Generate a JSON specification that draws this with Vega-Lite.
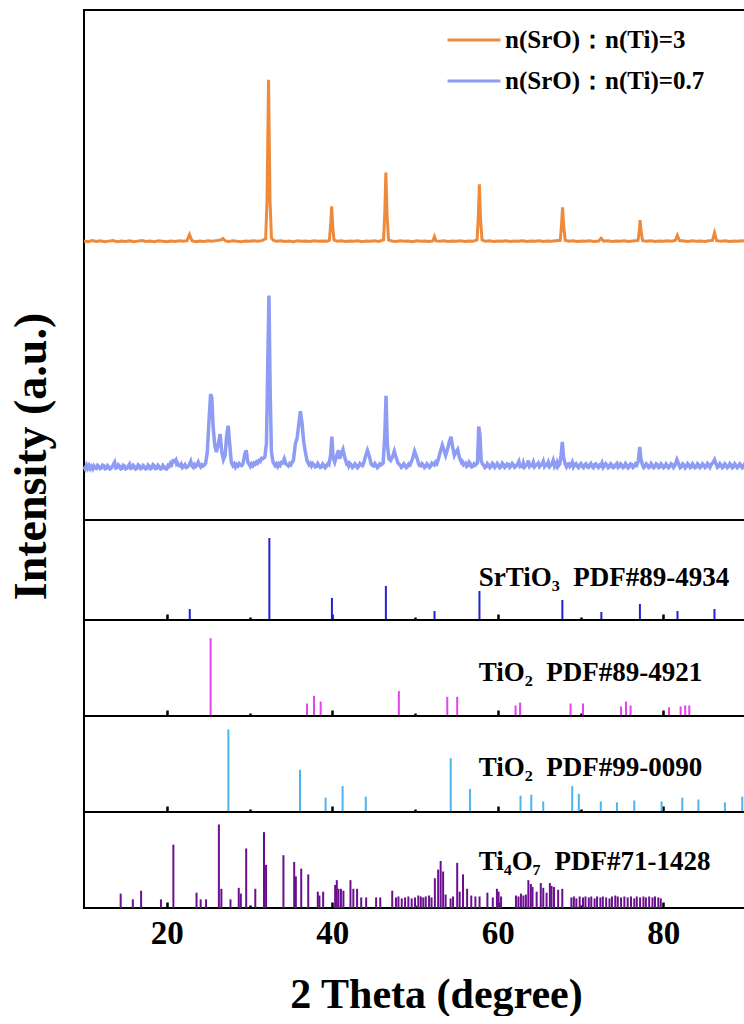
{
"$schema": "https://vega.github.io/schema/vega-lite/v6.json",
"padding": {"left": 8, "top": 9, "right": 0, "bottom": 0},
"bounds": "flush",
"config": {"view": {"stroke": "black", "strokeWidth": 2}, "concat": {"spacing": 0}, "font": "Liberation Serif"},
"title": {"text": "Intensity (a.u.)", "orient": "left", "anchor": "middle", "fontSize": 46, "fontWeight": "bold", "font": "Liberation Serif", "offset": 20, "color": "black", "dx": 56},
"datasets": {
"lines": [
{"s":"3","t":10,"i":31.2},{"s":"3","t":10.5,"i":30.8},{"s":"3","t":11,"i":31.5},{"s":"3","t":11.5,"i":30.9},{"s":"3","t":12,"i":31.3},{"s":"3","t":12.5,"i":30.7},{"s":"3","t":13,"i":31.1},{"s":"3","t":13.5,"i":31.4},{"s":"3","t":14,"i":30.8},{"s":"3","t":14.5,"i":31.2},{"s":"3","t":15,"i":30.9},{"s":"3","t":15.5,"i":31.3},{"s":"3","t":16,"i":30.7},{"s":"3","t":16.5,"i":31.1},{"s":"3","t":17,"i":31.4},{"s":"3","t":17.5,"i":30.9},{"s":"3","t":18,"i":31.2},{"s":"3","t":18.5,"i":30.8},{"s":"3","t":19,"i":31.3},{"s":"3","t":19.5,"i":31.0},{"s":"3","t":20,"i":30.7},{"s":"3","t":20.5,"i":31.2},{"s":"3","t":21,"i":30.9},{"s":"3","t":21.5,"i":31.3},{"s":"3","t":22,"i":31.0},{"s":"3","t":22.45,"i":31.4},{"s":"3","t":22.75,"i":35},{"s":"3","t":23.05,"i":31.3},{"s":"3","t":23.5,"i":30.8},{"s":"3","t":24,"i":31.2},{"s":"3","t":24.5,"i":30.9},{"s":"3","t":25,"i":31.3},{"s":"3","t":25.5,"i":31.0},{"s":"3","t":26,"i":31.4},{"s":"3","t":26.5,"i":31.8},{"s":"3","t":26.8,"i":32.6},{"s":"3","t":27.1,"i":31.2},{"s":"3","t":27.5,"i":30.9},{"s":"3","t":28,"i":31.3},{"s":"3","t":28.5,"i":31.0},{"s":"3","t":29,"i":30.8},{"s":"3","t":29.5,"i":31.2},{"s":"3","t":30,"i":31.0},{"s":"3","t":30.5,"i":31.3},{"s":"3","t":31,"i":31.1},{"s":"3","t":31.5,"i":31.4},{"s":"3","t":31.95,"i":32.5},{"s":"3","t":32.12,"i":55},{"s":"3","t":32.3,"i":126},{"s":"3","t":32.48,"i":55},{"s":"3","t":32.65,"i":33},{"s":"3","t":32.9,"i":31.5},{"s":"3","t":33.3,"i":31.0},{"s":"3","t":33.8,"i":31.3},{"s":"3","t":34.3,"i":30.9},{"s":"3","t":34.8,"i":31.2},{"s":"3","t":35.3,"i":30.8},{"s":"3","t":35.8,"i":31.3},{"s":"3","t":36.3,"i":31.0},{"s":"3","t":36.8,"i":31.2},{"s":"3","t":37.3,"i":30.9},{"s":"3","t":37.8,"i":31.3},{"s":"3","t":38.3,"i":31.0},{"s":"3","t":38.8,"i":31.2},{"s":"3","t":39.3,"i":31.0},{"s":"3","t":39.65,"i":31.5},{"s":"3","t":39.8,"i":40},{"s":"3","t":39.93,"i":51.5},{"s":"3","t":40.06,"i":40},{"s":"3","t":40.2,"i":31.8},{"s":"3","t":40.6,"i":31.0},{"s":"3","t":41.1,"i":31.3},{"s":"3","t":41.6,"i":30.9},{"s":"3","t":42.1,"i":31.2},{"s":"3","t":42.6,"i":31.0},{"s":"3","t":43.1,"i":31.3},{"s":"3","t":43.6,"i":30.8},{"s":"3","t":44.1,"i":31.2},{"s":"3","t":44.6,"i":31.0},{"s":"3","t":45.1,"i":31.3},{"s":"3","t":45.6,"i":30.9},{"s":"3","t":46.2,"i":31.8},{"s":"3","t":46.35,"i":48},{"s":"3","t":46.48,"i":71.5},{"s":"3","t":46.62,"i":47},{"s":"3","t":46.8,"i":31.8},{"s":"3","t":47.2,"i":31.2},{"s":"3","t":47.7,"i":30.9},{"s":"3","t":48.2,"i":31.3},{"s":"3","t":48.7,"i":31.0},{"s":"3","t":49.2,"i":31.2},{"s":"3","t":49.7,"i":30.8},{"s":"3","t":50.2,"i":31.3},{"s":"3","t":50.7,"i":31.0},{"s":"3","t":51.2,"i":31.2},{"s":"3","t":51.7,"i":30.9},{"s":"3","t":52.15,"i":31.2},{"s":"3","t":52.35,"i":33.8},{"s":"3","t":52.55,"i":31.2},{"s":"3","t":53,"i":31.0},{"s":"3","t":53.5,"i":31.3},{"s":"3","t":54,"i":30.9},{"s":"3","t":54.5,"i":31.2},{"s":"3","t":55,"i":31.0},{"s":"3","t":55.5,"i":31.3},{"s":"3","t":56,"i":30.9},{"s":"3","t":56.5,"i":31.2},{"s":"3","t":57,"i":31.0},{"s":"3","t":57.5,"i":31.8},{"s":"3","t":57.65,"i":45},{"s":"3","t":57.78,"i":64.5},{"s":"3","t":57.92,"i":44},{"s":"3","t":58.1,"i":31.8},{"s":"3","t":58.5,"i":31.0},{"s":"3","t":59,"i":31.3},{"s":"3","t":59.5,"i":30.9},{"s":"3","t":60,"i":31.2},{"s":"3","t":60.5,"i":31.0},{"s":"3","t":61,"i":31.3},{"s":"3","t":61.5,"i":30.9},{"s":"3","t":62,"i":31.2},{"s":"3","t":62.5,"i":31.0},{"s":"3","t":63,"i":31.3},{"s":"3","t":63.5,"i":30.9},{"s":"3","t":64,"i":31.2},{"s":"3","t":64.5,"i":31.0},{"s":"3","t":65,"i":31.3},{"s":"3","t":65.5,"i":30.9},{"s":"3","t":66,"i":31.2},{"s":"3","t":66.5,"i":31.0},{"s":"3","t":67,"i":31.3},{"s":"3","t":67.55,"i":31.6},{"s":"3","t":67.7,"i":40},{"s":"3","t":67.83,"i":51},{"s":"3","t":67.97,"i":40},{"s":"3","t":68.15,"i":31.6},{"s":"3","t":68.6,"i":31.0},{"s":"3","t":69.1,"i":31.3},{"s":"3","t":69.6,"i":30.9},{"s":"3","t":70.1,"i":31.2},{"s":"3","t":70.6,"i":31.0},{"s":"3","t":71.1,"i":31.3},{"s":"3","t":71.6,"i":30.9},{"s":"3","t":72.2,"i":31.2},{"s":"3","t":72.5,"i":32.8},{"s":"3","t":72.8,"i":31.1},{"s":"3","t":73.3,"i":31.3},{"s":"3","t":73.8,"i":30.9},{"s":"3","t":74.3,"i":31.2},{"s":"3","t":74.8,"i":31.0},{"s":"3","t":75.3,"i":31.3},{"s":"3","t":75.8,"i":30.9},{"s":"3","t":76.3,"i":31.2},{"s":"3","t":76.95,"i":31.5},{"s":"3","t":77.1,"i":37},{"s":"3","t":77.2,"i":43.5},{"s":"3","t":77.32,"i":37},{"s":"3","t":77.5,"i":31.4},{"s":"3","t":78,"i":31.0},{"s":"3","t":78.5,"i":31.3},{"s":"3","t":79,"i":30.9},{"s":"3","t":79.5,"i":31.2},{"s":"3","t":80,"i":31.0},{"s":"3","t":80.5,"i":31.3},{"s":"3","t":81,"i":31.0},{"s":"3","t":81.45,"i":31.5},{"s":"3","t":81.7,"i":34.5},{"s":"3","t":81.95,"i":31.4},{"s":"3","t":82.5,"i":31.2},{"s":"3","t":83,"i":30.9},{"s":"3","t":83.5,"i":31.3},{"s":"3","t":84,"i":31.0},{"s":"3","t":84.5,"i":31.2},{"s":"3","t":85,"i":30.9},{"s":"3","t":85.5,"i":31.3},{"s":"3","t":85.95,"i":31.5},{"s":"3","t":86.2,"i":36},{"s":"3","t":86.45,"i":31.4},{"s":"3","t":87,"i":31.0},{"s":"3","t":87.5,"i":31.3},{"s":"3","t":88,"i":30.9},{"s":"3","t":88.5,"i":31.2},{"s":"3","t":89,"i":31.0},{"s":"3","t":89.5,"i":31.3},{"s":"3","t":90,"i":31.0},
{"s":"0.7","t":10,"i":31.5},{"s":"0.7","t":10.15,"i":30.1},{"s":"0.7","t":10.3,"i":32.2},{"s":"0.7","t":10.45,"i":30.4},{"s":"0.7","t":10.6,"i":32},{"s":"0.7","t":10.75,"i":30.2},{"s":"0.7","t":10.9,"i":31.5},{"s":"0.7","t":11.05,"i":30.1},{"s":"0.7","t":11.2,"i":31.8},{"s":"0.7","t":11.35,"i":30.6},{"s":"0.7","t":11.5,"i":30.3},{"s":"0.7","t":11.65,"i":32.1},{"s":"0.7","t":11.8,"i":31.5},{"s":"0.7","t":11.95,"i":30.2},{"s":"0.7","t":12.1,"i":30.6},{"s":"0.7","t":12.25,"i":32.3},{"s":"0.7","t":12.4,"i":31.9},{"s":"0.7","t":12.55,"i":30.1},{"s":"0.7","t":12.7,"i":30.4},{"s":"0.7","t":12.85,"i":32.0},{"s":"0.7","t":13.0,"i":31.2},{"s":"0.7","t":13.15,"i":30.0},{"s":"0.7","t":13.3,"i":30.5},{"s":"0.7","t":13.5,"i":32.2},{"s":"0.7","t":13.7,"i":34},{"s":"0.7","t":13.85,"i":30.5},{"s":"0.7","t":14.0,"i":30.8},{"s":"0.7","t":14.15,"i":32.4},{"s":"0.7","t":14.3,"i":31.6},{"s":"0.7","t":14.45,"i":30.0},{"s":"0.7","t":14.6,"i":30.3},{"s":"0.7","t":14.75,"i":32.2},{"s":"0.7","t":14.9,"i":31.8},{"s":"0.7","t":15.05,"i":30.1},{"s":"0.7","t":15.2,"i":30.5},{"s":"0.7","t":15.35,"i":31.6},{"s":"0.7","t":15.5,"i":32.8},{"s":"0.7","t":15.65,"i":30.4},{"s":"0.7","t":15.8,"i":30.6},{"s":"0.7","t":15.95,"i":32.2},{"s":"0.7","t":16.1,"i":31.5},{"s":"0.7","t":16.25,"i":30.0},{"s":"0.7","t":16.4,"i":30.4},{"s":"0.7","t":16.55,"i":32.4},{"s":"0.7","t":16.7,"i":31.8},{"s":"0.7","t":16.85,"i":30.2},{"s":"0.7","t":17.0,"i":30.5},{"s":"0.7","t":17.15,"i":32.0},{"s":"0.7","t":17.3,"i":31.4},{"s":"0.7","t":17.45,"i":30.0},{"s":"0.7","t":17.6,"i":30.2},{"s":"0.7","t":17.75,"i":32.3},{"s":"0.7","t":17.9,"i":31.6},{"s":"0.7","t":18.05,"i":30.1},{"s":"0.7","t":18.2,"i":30.5},{"s":"0.7","t":18.35,"i":32.5},{"s":"0.7","t":18.5,"i":31.9},{"s":"0.7","t":18.65,"i":30.2},{"s":"0.7","t":18.8,"i":30.4},{"s":"0.7","t":18.95,"i":32.1},{"s":"0.7","t":19.1,"i":31.2},{"s":"0.7","t":19.25,"i":30.0},{"s":"0.7","t":19.4,"i":30.3},{"s":"0.7","t":19.55,"i":32.0},{"s":"0.7","t":19.7,"i":31.0},{"s":"0.7","t":19.85,"i":30.2},{"s":"0.7","t":20.0,"i":30.0},{"s":"0.7","t":20.15,"i":32.1},{"s":"0.7","t":20.3,"i":31.6},{"s":"0.7","t":20.45,"i":33.4},{"s":"0.7","t":20.6,"i":32.5},{"s":"0.7","t":20.75,"i":34.8},{"s":"0.7","t":20.9,"i":34.5},{"s":"0.7","t":21.1,"i":35.5},{"s":"0.7","t":21.2,"i":33.0},{"s":"0.7","t":21.3,"i":33.5},{"s":"0.7","t":21.45,"i":32.0},{"s":"0.7","t":21.6,"i":31.8},{"s":"0.7","t":21.75,"i":32.9},{"s":"0.7","t":21.9,"i":30.8},{"s":"0.7","t":22.05,"i":31.5},{"s":"0.7","t":22.2,"i":32.5},{"s":"0.7","t":22.35,"i":30.9},{"s":"0.7","t":22.5,"i":31.2},{"s":"0.7","t":22.7,"i":32.3},{"s":"0.7","t":22.9,"i":34.5},{"s":"0.7","t":23.05,"i":31.8},{"s":"0.7","t":23.2,"i":31.0},{"s":"0.7","t":23.35,"i":32.6},{"s":"0.7","t":23.5,"i":31.5},{"s":"0.7","t":23.65,"i":32.2},{"s":"0.7","t":23.8,"i":34.0},{"s":"0.7","t":23.95,"i":32.2},{"s":"0.7","t":24.1,"i":31.2},{"s":"0.7","t":24.25,"i":32.5},{"s":"0.7","t":24.4,"i":31.8},{"s":"0.7","t":24.55,"i":32.5},{"s":"0.7","t":24.7,"i":33.5},{"s":"0.7","t":24.9,"i":40},{"s":"0.7","t":25.1,"i":58},{"s":"0.7","t":25.3,"i":74},{"s":"0.7","t":25.45,"i":72},{"s":"0.7","t":25.6,"i":55},{"s":"0.7","t":25.8,"i":44},{"s":"0.7","t":26.0,"i":40},{"s":"0.7","t":26.2,"i":44},{"s":"0.7","t":26.45,"i":50.5},{"s":"0.7","t":26.65,"i":40},{"s":"0.7","t":26.85,"i":35.5},{"s":"0.7","t":27.05,"i":38},{"s":"0.7","t":27.25,"i":50},{"s":"0.7","t":27.42,"i":55.5},{"s":"0.7","t":27.6,"i":45},{"s":"0.7","t":27.8,"i":34},{"s":"0.7","t":28.0,"i":32},{"s":"0.7","t":28.15,"i":33.0},{"s":"0.7","t":28.3,"i":31.2},{"s":"0.7","t":28.45,"i":32.6},{"s":"0.7","t":28.6,"i":31.8},{"s":"0.7","t":28.75,"i":33.2},{"s":"0.7","t":28.9,"i":32.3},{"s":"0.7","t":29.05,"i":32.0},{"s":"0.7","t":29.2,"i":33},{"s":"0.7","t":29.45,"i":39},{"s":"0.7","t":29.6,"i":41},{"s":"0.7","t":29.8,"i":34},{"s":"0.7","t":29.95,"i":32.8},{"s":"0.7","t":30.1,"i":31.5},{"s":"0.7","t":30.25,"i":33.0},{"s":"0.7","t":30.4,"i":32},{"s":"0.7","t":30.55,"i":33.5},{"s":"0.7","t":30.7,"i":32.8},{"s":"0.7","t":30.85,"i":34.2},{"s":"0.7","t":31.0,"i":33.5},{"s":"0.7","t":31.15,"i":35.0},{"s":"0.7","t":31.3,"i":34.5},{"s":"0.7","t":31.45,"i":36.2},{"s":"0.7","t":31.6,"i":36},{"s":"0.7","t":31.85,"i":37},{"s":"0.7","t":32.05,"i":45},{"s":"0.7","t":32.2,"i":90},{"s":"0.7","t":32.35,"i":132},{"s":"0.7","t":32.5,"i":75},{"s":"0.7","t":32.65,"i":40},{"s":"0.7","t":32.85,"i":34},{"s":"0.7","t":33.0,"i":32.8},{"s":"0.7","t":33.1,"i":32},{"s":"0.7","t":33.25,"i":33.0},{"s":"0.7","t":33.4,"i":31.5},{"s":"0.7","t":33.55,"i":33.0},{"s":"0.7","t":33.7,"i":32.2},{"s":"0.7","t":33.85,"i":33.8},{"s":"0.7","t":34.0,"i":33.5},{"s":"0.7","t":34.2,"i":36},{"s":"0.7","t":34.4,"i":33},{"s":"0.7","t":34.55,"i":32.5},{"s":"0.7","t":34.7,"i":31.8},{"s":"0.7","t":34.85,"i":33.2},{"s":"0.7","t":35.0,"i":32.5},{"s":"0.7","t":35.15,"i":34.0},{"s":"0.7","t":35.3,"i":35},{"s":"0.7","t":35.55,"i":45},{"s":"0.7","t":35.75,"i":48},{"s":"0.7","t":35.95,"i":56},{"s":"0.7","t":36.15,"i":64},{"s":"0.7","t":36.35,"i":57},{"s":"0.7","t":36.55,"i":46},{"s":"0.7","t":36.75,"i":40},{"s":"0.7","t":36.95,"i":35},{"s":"0.7","t":37.05,"i":34.0},{"s":"0.7","t":37.2,"i":32.5},{"s":"0.7","t":37.35,"i":33.4},{"s":"0.7","t":37.5,"i":31.8},{"s":"0.7","t":37.65,"i":33.2},{"s":"0.7","t":37.8,"i":32.5},{"s":"0.7","t":37.95,"i":31.2},{"s":"0.7","t":38.1,"i":31.5},{"s":"0.7","t":38.25,"i":33.2},{"s":"0.7","t":38.4,"i":32},{"s":"0.7","t":38.55,"i":30.9},{"s":"0.7","t":38.7,"i":31.2},{"s":"0.7","t":38.85,"i":33.0},{"s":"0.7","t":39.0,"i":32.2},{"s":"0.7","t":39.15,"i":30.8},{"s":"0.7","t":39.3,"i":31.6},{"s":"0.7","t":39.45,"i":33.0},{"s":"0.7","t":39.6,"i":32.5},{"s":"0.7","t":39.8,"i":38},{"s":"0.7","t":39.95,"i":49},{"s":"0.7","t":40.1,"i":37},{"s":"0.7","t":40.3,"i":34},{"s":"0.7","t":40.55,"i":38},{"s":"0.7","t":40.75,"i":41},{"s":"0.7","t":40.9,"i":36},{"s":"0.7","t":41.1,"i":39},{"s":"0.7","t":41.3,"i":41.5},{"s":"0.7","t":41.5,"i":37},{"s":"0.7","t":41.75,"i":33},{"s":"0.7","t":41.9,"i":33.5},{"s":"0.7","t":42.0,"i":31.8},{"s":"0.7","t":42.15,"i":33.2},{"s":"0.7","t":42.3,"i":32.3},{"s":"0.7","t":42.45,"i":30.9},{"s":"0.7","t":42.6,"i":31.5},{"s":"0.7","t":42.75,"i":33.0},{"s":"0.7","t":42.9,"i":32.2},{"s":"0.7","t":43.05,"i":30.8},{"s":"0.7","t":43.2,"i":31.6},{"s":"0.7","t":43.35,"i":33.2},{"s":"0.7","t":43.5,"i":32.5},{"s":"0.7","t":43.65,"i":32.0},{"s":"0.7","t":43.8,"i":33.5},{"s":"0.7","t":44.05,"i":38},{"s":"0.7","t":44.25,"i":41},{"s":"0.7","t":44.45,"i":38},{"s":"0.7","t":44.7,"i":33},{"s":"0.7","t":44.85,"i":32.2},{"s":"0.7","t":45.0,"i":31.8},{"s":"0.7","t":45.15,"i":33.2},{"s":"0.7","t":45.3,"i":32.2},{"s":"0.7","t":45.45,"i":30.8},{"s":"0.7","t":45.6,"i":31.5},{"s":"0.7","t":45.75,"i":33.0},{"s":"0.7","t":45.9,"i":32.5},{"s":"0.7","t":46.15,"i":33.5},{"s":"0.7","t":46.35,"i":50},{"s":"0.7","t":46.5,"i":73},{"s":"0.7","t":46.65,"i":45},{"s":"0.7","t":46.85,"i":36},{"s":"0.7","t":47.05,"i":35},{"s":"0.7","t":47.3,"i":37.5},{"s":"0.7","t":47.5,"i":40.5},{"s":"0.7","t":47.7,"i":37},{"s":"0.7","t":47.95,"i":33.5},{"s":"0.7","t":48.05,"i":33.0},{"s":"0.7","t":48.2,"i":32.3},{"s":"0.7","t":48.35,"i":31.0},{"s":"0.7","t":48.5,"i":31.6},{"s":"0.7","t":48.65,"i":33.0},{"s":"0.7","t":48.8,"i":32.2},{"s":"0.7","t":48.95,"i":30.8},{"s":"0.7","t":49.1,"i":31.4},{"s":"0.7","t":49.25,"i":33.0},{"s":"0.7","t":49.4,"i":32.5},{"s":"0.7","t":49.7,"i":36},{"s":"0.7","t":49.95,"i":40.5},{"s":"0.7","t":50.2,"i":37},{"s":"0.7","t":50.45,"i":33},{"s":"0.7","t":50.55,"i":32.0},{"s":"0.7","t":50.7,"i":31.8},{"s":"0.7","t":50.85,"i":33.2},{"s":"0.7","t":51.0,"i":32.3},{"s":"0.7","t":51.15,"i":30.8},{"s":"0.7","t":51.3,"i":31.5},{"s":"0.7","t":51.45,"i":33.0},{"s":"0.7","t":51.6,"i":32.2},{"s":"0.7","t":51.75,"i":30.9},{"s":"0.7","t":51.9,"i":31.6},{"s":"0.7","t":52.05,"i":33.5},{"s":"0.7","t":52.2,"i":33},{"s":"0.7","t":52.35,"i":32.4},{"s":"0.7","t":52.5,"i":34},{"s":"0.7","t":52.65,"i":33.2},{"s":"0.7","t":52.8,"i":35.5},{"s":"0.7","t":53.05,"i":40},{"s":"0.7","t":53.3,"i":44},{"s":"0.7","t":53.5,"i":41},{"s":"0.7","t":53.7,"i":38},{"s":"0.7","t":53.95,"i":42},{"s":"0.7","t":54.15,"i":46},{"s":"0.7","t":54.35,"i":49},{"s":"0.7","t":54.55,"i":43},{"s":"0.7","t":54.75,"i":38},{"s":"0.7","t":54.95,"i":40},{"s":"0.7","t":55.15,"i":41.5},{"s":"0.7","t":55.35,"i":37},{"s":"0.7","t":55.6,"i":34},{"s":"0.7","t":55.7,"i":34.5},{"s":"0.7","t":55.85,"i":32.5},{"s":"0.7","t":56.1,"i":33.5},{"s":"0.7","t":56.25,"i":31.5},{"s":"0.7","t":56.4,"i":32},{"s":"0.7","t":56.55,"i":34.0},{"s":"0.7","t":56.7,"i":33},{"s":"0.7","t":56.85,"i":31.2},{"s":"0.7","t":57.0,"i":31.5},{"s":"0.7","t":57.15,"i":33.0},{"s":"0.7","t":57.3,"i":32.3},{"s":"0.7","t":57.55,"i":33.5},{"s":"0.7","t":57.7,"i":55},{"s":"0.7","t":57.85,"i":50},{"s":"0.7","t":58.0,"i":35},{"s":"0.7","t":58.15,"i":33.0},{"s":"0.7","t":58.3,"i":32.2},{"s":"0.7","t":58.45,"i":30.8},{"s":"0.7","t":58.6,"i":31.4},{"s":"0.7","t":58.75,"i":33.2},{"s":"0.7","t":58.9,"i":32.3},{"s":"0.7","t":59.05,"i":30.8},{"s":"0.7","t":59.2,"i":31.5},{"s":"0.7","t":59.35,"i":33.3},{"s":"0.7","t":59.5,"i":32.6},{"s":"0.7","t":59.65,"i":30.9},{"s":"0.7","t":59.8,"i":31.6},{"s":"0.7","t":59.95,"i":33.2},{"s":"0.7","t":60.1,"i":32.3},{"s":"0.7","t":60.25,"i":30.8},{"s":"0.7","t":60.4,"i":31.4},{"s":"0.7","t":60.55,"i":33.4},{"s":"0.7","t":60.7,"i":32.5},{"s":"0.7","t":60.85,"i":30.9},{"s":"0.7","t":61.0,"i":31.5},{"s":"0.7","t":61.15,"i":33.0},{"s":"0.7","t":61.3,"i":32.8},{"s":"0.7","t":61.45,"i":30.9},{"s":"0.7","t":61.6,"i":31.6},{"s":"0.7","t":61.75,"i":33.2},{"s":"0.7","t":61.9,"i":32.3},{"s":"0.7","t":62.05,"i":31.0},{"s":"0.7","t":62.2,"i":31.6},{"s":"0.7","t":62.4,"i":33.0},{"s":"0.7","t":62.55,"i":34.5},{"s":"0.7","t":62.7,"i":31.5},{"s":"0.7","t":62.85,"i":32.0},{"s":"0.7","t":63.0,"i":31.4},{"s":"0.7","t":63.1,"i":33.5},{"s":"0.7","t":63.25,"i":31.2},{"s":"0.7","t":63.4,"i":32},{"s":"0.7","t":63.55,"i":32.4},{"s":"0.7","t":63.7,"i":35},{"s":"0.7","t":63.85,"i":31.6},{"s":"0.7","t":64.0,"i":32.5},{"s":"0.7","t":64.15,"i":32.0},{"s":"0.7","t":64.3,"i":34},{"s":"0.7","t":64.45,"i":31.3},{"s":"0.7","t":64.6,"i":32.2},{"s":"0.7","t":64.75,"i":32.6},{"s":"0.7","t":64.9,"i":33.5},{"s":"0.7","t":65.05,"i":31.4},{"s":"0.7","t":65.2,"i":32.3},{"s":"0.7","t":65.35,"i":32.8},{"s":"0.7","t":65.5,"i":34.5},{"s":"0.7","t":65.65,"i":31.5},{"s":"0.7","t":65.8,"i":32.5},{"s":"0.7","t":65.95,"i":32.2},{"s":"0.7","t":66.1,"i":34},{"s":"0.7","t":66.25,"i":31.4},{"s":"0.7","t":66.4,"i":32.2},{"s":"0.7","t":66.55,"i":33.0},{"s":"0.7","t":66.7,"i":35},{"s":"0.7","t":66.85,"i":31.8},{"s":"0.7","t":66.95,"i":32.8},{"s":"0.7","t":67.1,"i":31.6},{"s":"0.7","t":67.2,"i":33.8},{"s":"0.7","t":67.35,"i":32.0},{"s":"0.7","t":67.5,"i":33},{"s":"0.7","t":67.65,"i":38},{"s":"0.7","t":67.8,"i":46},{"s":"0.7","t":67.95,"i":37},{"s":"0.7","t":68.15,"i":33},{"s":"0.7","t":68.3,"i":31.4},{"s":"0.7","t":68.4,"i":32.6},{"s":"0.7","t":68.55,"i":33.0},{"s":"0.7","t":68.7,"i":31.5},{"s":"0.7","t":68.85,"i":32.4},{"s":"0.7","t":69.0,"i":34},{"s":"0.7","t":69.15,"i":31.2},{"s":"0.7","t":69.3,"i":32.5},{"s":"0.7","t":69.45,"i":33.1},{"s":"0.7","t":69.6,"i":31.6},{"s":"0.7","t":69.75,"i":30.9},{"s":"0.7","t":69.9,"i":32.4},{"s":"0.7","t":70.05,"i":33.2},{"s":"0.7","t":70.2,"i":31.5},{"s":"0.7","t":70.35,"i":30.8},{"s":"0.7","t":70.5,"i":32.4},{"s":"0.7","t":70.65,"i":33.0},{"s":"0.7","t":70.8,"i":31.3},{"s":"0.7","t":70.95,"i":30.9},{"s":"0.7","t":71.1,"i":32.3},{"s":"0.7","t":71.25,"i":33.2},{"s":"0.7","t":71.4,"i":31.5},{"s":"0.7","t":71.55,"i":30.8},{"s":"0.7","t":71.7,"i":32.6},{"s":"0.7","t":71.85,"i":33.0},{"s":"0.7","t":72.0,"i":31.5},{"s":"0.7","t":72.15,"i":30.9},{"s":"0.7","t":72.3,"i":32.3},{"s":"0.7","t":72.45,"i":31.8},{"s":"0.7","t":72.6,"i":33.5},{"s":"0.7","t":72.75,"i":30.9},{"s":"0.7","t":72.9,"i":31.8},{"s":"0.7","t":73.05,"i":33.1},{"s":"0.7","t":73.2,"i":32.2},{"s":"0.7","t":73.35,"i":30.8},{"s":"0.7","t":73.5,"i":31.3},{"s":"0.7","t":73.65,"i":33.0},{"s":"0.7","t":73.8,"i":32.4},{"s":"0.7","t":73.95,"i":30.8},{"s":"0.7","t":74.1,"i":31.2},{"s":"0.7","t":74.25,"i":32.6},{"s":"0.7","t":74.4,"i":33.3},{"s":"0.7","t":74.55,"i":30.9},{"s":"0.7","t":74.7,"i":31.4},{"s":"0.7","t":74.85,"i":33.0},{"s":"0.7","t":75.0,"i":32.3},{"s":"0.7","t":75.15,"i":30.8},{"s":"0.7","t":75.3,"i":31.3},{"s":"0.7","t":75.45,"i":33.2},{"s":"0.7","t":75.6,"i":32.3},{"s":"0.7","t":75.75,"i":30.7},{"s":"0.7","t":75.9,"i":31.4},{"s":"0.7","t":76.05,"i":33.0},{"s":"0.7","t":76.2,"i":32.6},{"s":"0.7","t":76.35,"i":30.9},{"s":"0.7","t":76.5,"i":31.5},{"s":"0.7","t":76.65,"i":33.0},{"s":"0.7","t":76.8,"i":32.3},{"s":"0.7","t":77.0,"i":35},{"s":"0.7","t":77.15,"i":43},{"s":"0.7","t":77.3,"i":36},{"s":"0.7","t":77.5,"i":32.3},{"s":"0.7","t":77.65,"i":30.8},{"s":"0.7","t":77.8,"i":31.5},{"s":"0.7","t":77.95,"i":33.0},{"s":"0.7","t":78.1,"i":32.3},{"s":"0.7","t":78.25,"i":30.8},{"s":"0.7","t":78.4,"i":31.2},{"s":"0.7","t":78.55,"i":33.1},{"s":"0.7","t":78.7,"i":32.1},{"s":"0.7","t":78.85,"i":30.7},{"s":"0.7","t":79.0,"i":31.3},{"s":"0.7","t":79.15,"i":33.0},{"s":"0.7","t":79.3,"i":32.5},{"s":"0.7","t":79.45,"i":30.8},{"s":"0.7","t":79.6,"i":31.2},{"s":"0.7","t":79.75,"i":33.0},{"s":"0.7","t":79.9,"i":32.2},{"s":"0.7","t":80.05,"i":30.8},{"s":"0.7","t":80.2,"i":31.3},{"s":"0.7","t":80.35,"i":33.0},{"s":"0.7","t":80.5,"i":32.0},{"s":"0.7","t":80.65,"i":30.8},{"s":"0.7","t":80.8,"i":31.5},{"s":"0.7","t":80.95,"i":33.1},{"s":"0.7","t":81.1,"i":32.5},{"s":"0.7","t":81.25,"i":31.0},{"s":"0.7","t":81.4,"i":32.0},{"s":"0.7","t":81.65,"i":35.5},{"s":"0.7","t":81.9,"i":32.5},{"s":"0.7","t":82.05,"i":30.8},{"s":"0.7","t":82.2,"i":31.4},{"s":"0.7","t":82.35,"i":33.0},{"s":"0.7","t":82.5,"i":32.3},{"s":"0.7","t":82.65,"i":30.7},{"s":"0.7","t":82.8,"i":31.5},{"s":"0.7","t":82.95,"i":33.1},{"s":"0.7","t":83.1,"i":32.3},{"s":"0.7","t":83.25,"i":30.8},{"s":"0.7","t":83.4,"i":31.2},{"s":"0.7","t":83.55,"i":33.0},{"s":"0.7","t":83.7,"i":32.0},{"s":"0.7","t":83.85,"i":30.8},{"s":"0.7","t":84.0,"i":31.3},{"s":"0.7","t":84.15,"i":33.1},{"s":"0.7","t":84.3,"i":32.4},{"s":"0.7","t":84.45,"i":30.8},{"s":"0.7","t":84.6,"i":31.5},{"s":"0.7","t":84.75,"i":33.0},{"s":"0.7","t":84.9,"i":32.2},{"s":"0.7","t":85.05,"i":30.8},{"s":"0.7","t":85.2,"i":31.4},{"s":"0.7","t":85.35,"i":33.2},{"s":"0.7","t":85.5,"i":32.3},{"s":"0.7","t":85.65,"i":31.0},{"s":"0.7","t":85.8,"i":32.6},{"s":"0.7","t":86.05,"i":34},{"s":"0.7","t":86.2,"i":35.5},{"s":"0.7","t":86.4,"i":32.8},{"s":"0.7","t":86.55,"i":30.9},{"s":"0.7","t":86.7,"i":31.5},{"s":"0.7","t":86.85,"i":33.1},{"s":"0.7","t":87.0,"i":32.3},{"s":"0.7","t":87.15,"i":30.8},{"s":"0.7","t":87.3,"i":31.4},{"s":"0.7","t":87.45,"i":33.0},{"s":"0.7","t":87.6,"i":32.2},{"s":"0.7","t":87.75,"i":30.8},{"s":"0.7","t":87.9,"i":31.5},{"s":"0.7","t":88.05,"i":33.1},{"s":"0.7","t":88.2,"i":32.3},{"s":"0.7","t":88.35,"i":30.7},{"s":"0.7","t":88.5,"i":31.3},{"s":"0.7","t":88.65,"i":33.0},{"s":"0.7","t":88.8,"i":32.1},{"s":"0.7","t":88.95,"i":30.8},{"s":"0.7","t":89.1,"i":31.5},{"s":"0.7","t":89.25,"i":33.0},{"s":"0.7","t":89.4,"i":32.3},{"s":"0.7","t":89.55,"i":30.8},{"s":"0.7","t":89.7,"i":31.4},{"s":"0.7","t":89.85,"i":33.0},{"s":"0.7","t":90.0,"i":32.0}
],
"sticks": [
{"p":"S","t":22.78,"h":11},{"p":"S","t":32.4,"h":82},{"p":"S","t":39.96,"h":22},{"p":"S","t":46.48,"h":34},{"p":"S","t":52.36,"h":9},{"p":"S","t":57.79,"h":29},{"p":"S","t":67.81,"h":20},{"p":"S","t":72.52,"h":8},{"p":"S","t":77.18,"h":16},{"p":"S","t":81.72,"h":9},{"p":"S","t":86.19,"h":11},
{"p":"A","t":25.3,"h":81},{"p":"A","t":36.95,"h":13},{"p":"A","t":37.8,"h":21},{"p":"A","t":38.6,"h":15},{"p":"A","t":48.05,"h":26},{"p":"A","t":53.9,"h":20},{"p":"A","t":55.1,"h":20},{"p":"A","t":62.15,"h":11},{"p":"A","t":62.7,"h":14},{"p":"A","t":68.8,"h":13},{"p":"A","t":70.3,"h":13},{"p":"A","t":74.9,"h":10},{"p":"A","t":75.5,"h":15},{"p":"A","t":76.05,"h":11},{"p":"A","t":80.7,"h":9},{"p":"A","t":82.1,"h":10},{"p":"A","t":82.65,"h":11},{"p":"A","t":83.15,"h":11},
{"p":"R","t":27.45,"h":86},{"p":"R","t":36.1,"h":44},{"p":"R","t":39.2,"h":15},{"p":"R","t":41.25,"h":27},{"p":"R","t":44.05,"h":16},{"p":"R","t":54.32,"h":56},{"p":"R","t":56.64,"h":24},{"p":"R","t":62.75,"h":17},{"p":"R","t":64.05,"h":18},{"p":"R","t":65.5,"h":11},{"p":"R","t":69.0,"h":27},{"p":"R","t":69.8,"h":19},{"p":"R","t":72.45,"h":11},{"p":"R","t":74.4,"h":10},{"p":"R","t":76.5,"h":12},{"p":"R","t":79.8,"h":11},{"p":"R","t":82.3,"h":15},{"p":"R","t":84.25,"h":13},{"p":"R","t":87.45,"h":10},{"p":"R","t":89.55,"h":16},
{"p":"T","t":14.43,"h":15},{"p":"T","t":15.9,"h":9},{"p":"T","t":16.9,"h":18},{"p":"T","t":19.3,"h":9},{"p":"T","t":20.8,"h":66},{"p":"T","t":23.6,"h":16},{"p":"T","t":24.1,"h":9},{"p":"T","t":24.75,"h":9},{"p":"T","t":26.3,"h":87},{"p":"T","t":26.6,"h":20},{"p":"T","t":27.7,"h":9},{"p":"T","t":28.7,"h":21},{"p":"T","t":28.95,"h":15},{"p":"T","t":29.6,"h":62},{"p":"T","t":30.7,"h":20},{"p":"T","t":31.75,"h":79},{"p":"T","t":32.0,"h":45},{"p":"T","t":34.1,"h":55},{"p":"T","t":35.4,"h":48},{"p":"T","t":35.6,"h":33},{"p":"T","t":36.25,"h":41},{"p":"T","t":37.1,"h":35},{"p":"T","t":38.25,"h":17},{"p":"T","t":38.45,"h":13},{"p":"T","t":38.9,"h":17},{"p":"T","t":40.35,"h":24},{"p":"T","t":40.55,"h":29},{"p":"T","t":40.75,"h":20},{"p":"T","t":41.05,"h":20},{"p":"T","t":41.35,"h":18},{"p":"T","t":42.2,"h":29},{"p":"T","t":42.55,"h":20},{"p":"T","t":43.0,"h":20},{"p":"T","t":43.5,"h":11},{"p":"T","t":44.1,"h":11},{"p":"T","t":45.3,"h":11},{"p":"T","t":45.8,"h":11},{"p":"T","t":47.25,"h":18},{"p":"T","t":47.7,"h":11},{"p":"T","t":48.0,"h":12},{"p":"T","t":48.4,"h":10},{"p":"T","t":48.8,"h":11},{"p":"T","t":49.2,"h":12},{"p":"T","t":49.6,"h":10},{"p":"T","t":50.0,"h":11},{"p":"T","t":50.4,"h":13},{"p":"T","t":50.7,"h":12},{"p":"T","t":51.0,"h":11},{"p":"T","t":51.3,"h":12},{"p":"T","t":51.7,"h":13},{"p":"T","t":52.0,"h":11},{"p":"T","t":52.4,"h":31},{"p":"T","t":52.8,"h":40},{"p":"T","t":53.1,"h":49},{"p":"T","t":53.4,"h":38},{"p":"T","t":53.7,"h":14},{"p":"T","t":54.3,"h":10},{"p":"T","t":54.6,"h":12},{"p":"T","t":55.1,"h":47},{"p":"T","t":55.4,"h":17},{"p":"T","t":55.8,"h":35},{"p":"T","t":56.3,"h":20},{"p":"T","t":56.8,"h":13},{"p":"T","t":57.3,"h":12},{"p":"T","t":57.8,"h":12},{"p":"T","t":58.75,"h":16},{"p":"T","t":59.4,"h":11},{"p":"T","t":59.9,"h":20},{"p":"T","t":60.1,"h":17},{"p":"T","t":60.4,"h":12},{"p":"T","t":62.2,"h":13},{"p":"T","t":62.5,"h":12},{"p":"T","t":62.8,"h":15},{"p":"T","t":63.1,"h":13},{"p":"T","t":63.4,"h":14},{"p":"T","t":63.7,"h":29},{"p":"T","t":64.0,"h":25},{"p":"T","t":64.2,"h":22},{"p":"T","t":64.7,"h":17},{"p":"T","t":65.2,"h":26},{"p":"T","t":65.5,"h":21},{"p":"T","t":65.9,"h":16},{"p":"T","t":66.3,"h":26},{"p":"T","t":66.5,"h":23},{"p":"T","t":66.8,"h":22},{"p":"T","t":67.3,"h":19},{"p":"T","t":67.8,"h":20},{"p":"T","t":68.9,"h":11},{"p":"T","t":69.2,"h":12},{"p":"T","t":69.5,"h":10},{"p":"T","t":69.9,"h":12},{"p":"T","t":70.3,"h":11},{"p":"T","t":70.6,"h":12},{"p":"T","t":71.0,"h":11},{"p":"T","t":71.3,"h":12},{"p":"T","t":71.7,"h":10},{"p":"T","t":72.0,"h":12},{"p":"T","t":72.4,"h":11},{"p":"T","t":72.7,"h":12},{"p":"T","t":73.1,"h":11},{"p":"T","t":73.5,"h":10},{"p":"T","t":73.8,"h":12},{"p":"T","t":74.2,"h":13},{"p":"T","t":74.5,"h":12},{"p":"T","t":74.9,"h":11},{"p":"T","t":75.3,"h":12},{"p":"T","t":75.7,"h":11},{"p":"T","t":76.1,"h":12},{"p":"T","t":76.5,"h":10},{"p":"T","t":76.8,"h":12},{"p":"T","t":77.2,"h":11},{"p":"T","t":77.6,"h":12},{"p":"T","t":77.9,"h":11},{"p":"T","t":78.3,"h":12},{"p":"T","t":78.7,"h":11},{"p":"T","t":79.0,"h":12},{"p":"T","t":79.4,"h":11},{"p":"T","t":79.7,"h":10}
]
},
"vconcat": [
{
"width": 662, "height": 510,
"data": {"name": "lines"},
"encoding": {
"x": {"field": "t", "type": "quantitative", "scale": {"domain": [10, 90]}, "axis": null},
"y": {"field": "i", "type": "quantitative", "scale": {"domain": [0, 300]}, "axis": null},
"color": {"field": "s", "type": "nominal", "scale": {"domain": ["3", "0.7"], "range": ["#EE8A3C", "#8E9CF4"]},
"legend": {"orient": "none", "legendX": 362, "legendY": 2, "title": null, "symbolType": "stroke", "symbolSize": 2800, "symbolStrokeWidth": 3, "labelFont": "Liberation Serif", "labelFontWeight": "bold", "labelFontSize": 25, "labelColor": "black", "labelLimit": 400, "rowPadding": -1, "labelOffset": 3, "labelExpr": "'n(SrO)：n(Ti)=' + datum.label"}}
},
"layer": [
{"transform": [{"filter": "datum.s === '0.7'"}], "mark": {"type": "line", "strokeWidth": 3.5}},
{"transform": [{"filter": "datum.s === '3'"}], "mark": {"type": "line", "strokeWidth": 3, "yOffset": -226}}
]
},
{
"width": 662, "height": 100,
"layer": [
{"data": {"name": "sticks"}, "transform": [{"filter": "datum.p === 'S'"}], "mark": {"type": "rule", "strokeWidth": 2, "color": "#2222D0"},
"encoding": {"x": {"field": "t", "type": "quantitative", "scale": {"domain": [10, 90]}, "axis": {"values": [20, 30, 40, 50, 60, 70, 80], "tickSize": {"condition": {"test": "datum.value % 20 === 0", "value": -6}, "value": -3}, "tickWidth": 2.5, "tickColor": "black", "labels": false, "domain": false, "title": null, "grid": false}},
"y": {"field": "h", "type": "quantitative", "scale": {"domain": [0, 100]}, "axis": null}, "y2": {"datum": 0}}},
{"data": {"values": [{"label": "SrTiO₃\u00a0\u00a0PDF#89-4934"}]}, "mark": {"type": "text", "align": "left", "baseline": "middle", "fontSize": 27, "fontWeight": "bold", "font": "Liberation Serif", "color": "black"},
"encoding": {"x": {"datum": 57.7, "type": "quantitative"}, "y": {"datum": 42, "type": "quantitative"}, "text": {"field": "label"}}}
]
},
{
"width": 662, "height": 96,
"layer": [
{"data": {"name": "sticks"}, "transform": [{"filter": "datum.p === 'A'"}], "mark": {"type": "rule", "strokeWidth": 2, "color": "#E442EE"},
"encoding": {"x": {"field": "t", "type": "quantitative", "scale": {"domain": [10, 90]}, "axis": {"values": [20, 30, 40, 50, 60, 70, 80], "tickSize": {"condition": {"test": "datum.value % 20 === 0", "value": -6}, "value": -3}, "tickWidth": 2.5, "tickColor": "black", "labels": false, "domain": false, "title": null, "grid": false}},
"y": {"field": "h", "type": "quantitative", "scale": {"domain": [0, 100]}, "axis": null}, "y2": {"datum": 0}}},
{"data": {"values": [{"label": "TiO₂\u00a0\u00a0PDF#89-4921"}]}, "mark": {"type": "text", "align": "left", "baseline": "middle", "fontSize": 27, "fontWeight": "bold", "font": "Liberation Serif", "color": "black"},
"encoding": {"x": {"datum": 57.7, "type": "quantitative"}, "y": {"datum": 45, "type": "quantitative"}, "text": {"field": "label"}}}
]
},
{
"width": 662, "height": 96,
"layer": [
{"data": {"name": "sticks"}, "transform": [{"filter": "datum.p === 'R'"}], "mark": {"type": "rule", "strokeWidth": 2, "color": "#4DB4EE"},
"encoding": {"x": {"field": "t", "type": "quantitative", "scale": {"domain": [10, 90]}, "axis": {"values": [20, 30, 40, 50, 60, 70, 80], "tickSize": {"condition": {"test": "datum.value % 20 === 0", "value": -6}, "value": -3}, "tickWidth": 2.5, "tickColor": "black", "labels": false, "domain": false, "title": null, "grid": false}},
"y": {"field": "h", "type": "quantitative", "scale": {"domain": [0, 100]}, "axis": null}, "y2": {"datum": 0}}},
{"data": {"values": [{"label": "TiO₂\u00a0\u00a0PDF#99-0090"}]}, "mark": {"type": "text", "align": "left", "baseline": "middle", "fontSize": 27, "fontWeight": "bold", "font": "Liberation Serif", "color": "black"},
"encoding": {"x": {"datum": 57.7, "type": "quantitative"}, "y": {"datum": 46, "type": "quantitative"}, "text": {"field": "label"}}}
]
},
{
"width": 662, "height": 96,
"layer": [
{"data": {"name": "sticks"}, "transform": [{"filter": "datum.p === 'T'"}], "mark": {"type": "rule", "strokeWidth": 2, "color": "#6A0F8E"},
"encoding": {"x": {"field": "t", "type": "quantitative", "scale": {"domain": [10, 90]}, "axis": {"values": [20, 30, 40, 50, 60, 70, 80], "tickSize": {"condition": {"test": "datum.value % 20 === 0", "value": -6}, "value": -3}, "tickWidth": 2.5, "tickColor": "black", "labelExpr": "datum.value % 20 === 0 ? datum.label : ''", "labelFont": "Liberation Serif", "labelFontWeight": "bold", "labelFontSize": 33, "labelColor": "black", "labelPadding": 15, "domain": false, "grid": false, "title": "2 Theta (degree)", "titleFont": "Liberation Serif", "titleFontWeight": "bold", "titleFontSize": 42, "titleColor": "black", "titlePadding": 24, "titleX": 352}},
"y": {"field": "h", "type": "quantitative", "scale": {"domain": [0, 100]}, "axis": null}, "y2": {"datum": 0}}},
{"data": {"values": [{"label": "Ti₄O₇\u00a0\u00a0PDF#71-1428"}]}, "mark": {"type": "text", "align": "left", "baseline": "middle", "fontSize": 27, "fontWeight": "bold", "font": "Liberation Serif", "color": "black"},
"encoding": {"x": {"datum": 57.7, "type": "quantitative"}, "y": {"datum": 48, "type": "quantitative"}, "text": {"field": "label"}}}
]
}
]
}
